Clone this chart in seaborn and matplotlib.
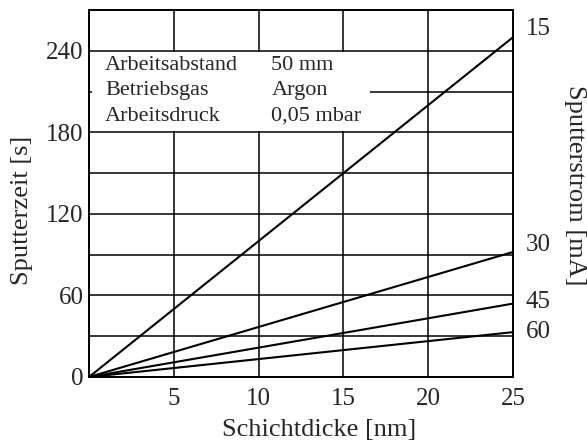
import pandas as pd
import matplotlib
matplotlib.use('Agg')
import matplotlib.pyplot as plt
from matplotlib.patches import Rectangle
import seaborn as sns

# Schichtdicke [nm] und Sputterzeit [s] je Sputterstrom [mA]
thickness = [0, 25]
current_labels = ['15', '30', '45', '60']
time_15 = [0, 250]
time_30 = [0, 92]
time_45 = [0, 54]
time_60 = [0, 33]

params = ['Arbeitsabstand', 'Betriebsgas', 'Arbeitsdruck']
param_values = ['50 mm', 'Argon', '0,05 mbar']

x_ticks = [5, 10, 15, 20, 25]
y_ticks = [0, 60, 120, 180, 240]

rows = []
for lab, vals in zip(current_labels, [time_15, time_30, time_45, time_60]):
    for x, y in zip(thickness, vals):
        rows.append({'dicke': x, 'zeit': y, 'strom': lab})
df = pd.DataFrame(rows)

sns.set_style('white')
plt.rcParams['font.family'] = ['Liberation Serif', 'DejaVu Serif']

fig = plt.figure(figsize=(5.87, 4.47), dpi=100)
ax = fig.add_axes([0.1516, 0.1566, 0.7224, 0.821])

sns.lineplot(data=df, x='dicke', y='zeit', units='strom', estimator=None,
             color='black', linewidth=1.5, ax=ax, zorder=3)

ax.set_xlim(0, 25)
ax.set_ylim(0, 270)
ax.set_xticks(range(0, 26, 5))
ax.set_yticks(range(0, 271, 30))
ax.grid(True, color='black', linewidth=1.1)
ax.set_axisbelow(True)
ax.set_xticklabels([str(t) if t in x_ticks else '' for t in range(0, 26, 5)])
ax.set_yticklabels([str(t) if t in y_ticks else '' for t in range(0, 271, 30)])
ax.tick_params(length=0, labelsize=18, pad=4)
ax.tick_params(axis='x', pad=8)
for s in ax.spines.values():
    s.set_color('black')
    s.set_linewidth(1.4)

ax.set_xlabel('Schichtdicke [nm]', fontsize=19)
ax.xaxis.set_label_coords(0.542, -0.115)
ax.set_ylabel('Sputterzeit [s]', fontsize=19)
ax.yaxis.set_label_coords(-0.132, 0.455)

# weisses Feld fuer die Legende
ax.add_patch(Rectangle((0.15, 181), 16.4, 58, facecolor='white', edgecolor='none', zorder=1))
for i, (p, v) in enumerate(zip(params, param_values)):
    yy = 229 - i * 18.5
    ax.text(0.95, yy, p, fontsize=16, va='center', ha='left', zorder=4)
    ax.text(10.75, yy, v, fontsize=16, va='center', ha='left', zorder=4)

label_dy = [6, 5, 1, 0]
for lab, vals, dy in zip(current_labels, [time_15, time_30, time_45, time_60], label_dy):
    ax.annotate(lab, xy=(thickness[-1], vals[-1]), xytext=(9, dy),
                textcoords='offset points', fontsize=18, va='center', ha='left',
                annotation_clip=False)

fig.text(0.98, 0.586, 'Sputterstrom [mA]', rotation=-90, fontsize=19,
         ha='center', va='center')

if ax.get_legend():
    ax.get_legend().remove()

fig.savefig('out.png', dpi=100)
